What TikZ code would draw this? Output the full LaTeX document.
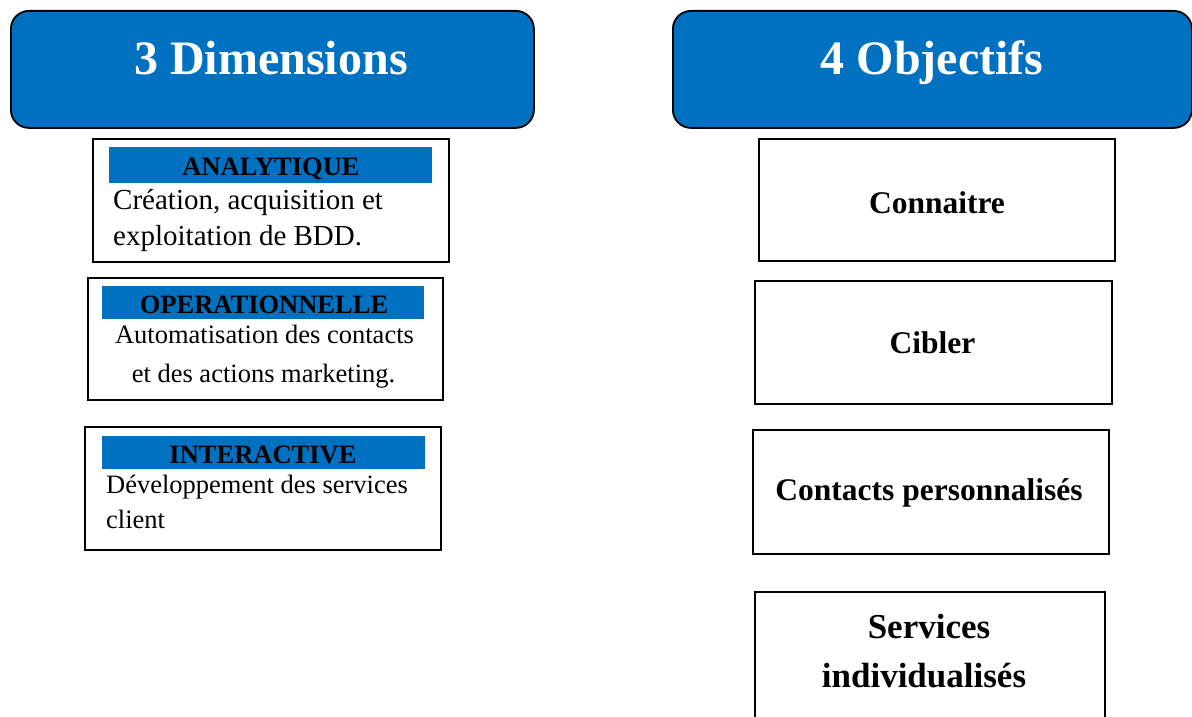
\documentclass[tikz,border=0pt]{standalone}
\usepackage{fontspec}
\setmainfont{Liberation Serif}
\definecolor{bandblue}{HTML}{0070C0}
\tikzset{
  header/.style={draw=black, fill=bandblue, line width=1.8pt, rounded corners=18pt,
                 anchor=north west, inner sep=0pt},
  card/.style={draw=black, line width=1.8pt, fill=white, anchor=north west, inner sep=0pt},
  band/.style={fill=bandblue, anchor=north west, inner sep=0pt},
  title/.style={text=white, font=\bfseries\fontsize{48}{56}\selectfont, anchor=base, inner sep=0pt},
  bandlabel/.style={font=\bfseries\fontsize{26.5}{30}\selectfont, anchor=base, inner sep=0pt},
  body/.style={font=\fontsize{26.5}{30}\selectfont, inner sep=0pt},
  bodybig/.style={font=\fontsize{29}{33}\selectfont, inner sep=0pt},
  goal/.style={font=\bfseries\fontsize{31.5}{36}\selectfont, anchor=base, inner sep=0pt},
  goalbig/.style={font=\bfseries\fontsize{35}{40}\selectfont, anchor=base, inner sep=0pt},
}
\begin{document}
\begin{tikzpicture}[x=1pt, y=-1pt]
  \path[use as bounding box] (0,0) rectangle (1192,717);
  \clip (0,0) rectangle (1192,717);

  % headers
  \node[header, minimum width=523pt, minimum height=117pt] (hdim) at (10,10) {};
  \node[header, minimum width=519pt, minimum height=117pt] (hobj) at (672,10) {};
  \node[title] (tdim) at (271,75) {3 Dimensions};
  \node[title] (tobj) at (932,75) {4 Objectifs};

  % left column: the three dimensions
  \node[card, minimum width=356pt, minimum height=123pt] (ana) at (92,138) {};
  \node[band, minimum width=323pt, minimum height=36pt] (anaband) at (109,147) {};
  \node[bandlabel] (analbl) at (271,175) {ANALYTIQUE};
  \node[bodybig, anchor=base west] (ana1) at (113,209) {Création, acquisition et};
  \node[bodybig, anchor=base west] (ana2) at (113,245) {exploitation de BDD.};

  \node[card, minimum width=355pt, minimum height=122pt] (ope) at (87,277) {};
  \node[band, minimum width=322pt, minimum height=33pt] (opeband) at (102,286) {};
  \node[bandlabel] (opelbl) at (264,313) {OPERATIONNELLE};
  \node[body, anchor=base] (ope1) at (264.5,343) {Automatisation des contacts};
  \node[body, anchor=base] (ope2) at (263.5,382) {et des actions marketing.};

  \node[card, minimum width=356pt, minimum height=123pt] (int) at (84,426) {};
  \node[band, minimum width=323pt, minimum height=33pt] (intband) at (102,436) {};
  \node[bandlabel] (intlbl) at (263,463) {INTERACTIVE};
  \node[body, anchor=base west] (int1) at (106,493) {Développement des services};
  \node[body, anchor=base west] (int2) at (106,528) {client};

  % right column: the four objectives
  \node[card, minimum width=356pt, minimum height=122pt] (con) at (758,138) {};
  \node[goal] (conlbl) at (937,213) {Connaitre};

  \node[card, minimum width=357pt, minimum height=123pt] (cib) at (754,280) {};
  \node[goal] (ciblbl) at (932.5,353) {Cibler};

  \node[card, minimum width=356pt, minimum height=124pt] (cpe) at (752,429) {};
  \node[goal] (cpelbl) at (929,500) {Contacts personnalisés};

  \node[card, minimum width=350pt, minimum height=160pt] (ser) at (754,591) {};
  \node[goalbig] (ser1) at (929,638) {Services};
  \node[goalbig] (ser2) at (924,687) {individualisés};
\end{tikzpicture}
\end{document}
